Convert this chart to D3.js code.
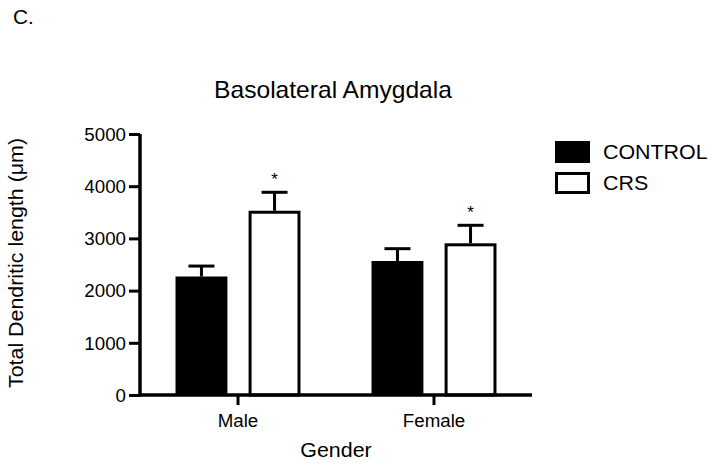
<!DOCTYPE html>
<html><head><meta charset="utf-8">
<script src="https://cdn.jsdelivr.net/npm/d3@7"></script>
<style>body{margin:0;background:#fff}svg{display:block}text{font-family:"Liberation Sans",Arial,sans-serif;fill:#000}</style>
</head><body><svg id="c" width="714" height="466"></svg>
<script>
const categories = ["Male", "Female"];
const seriesNames = ["CONTROL", "CRS"];
const controlValues = [2270, 2567];
const controlErrors = [200, 236];
const crsValues = [3530, 2906];
const crsErrors = [353, 345];
const significant = [true, true];
const yTicks = [0, 1000, 2000, 3000, 4000, 5000];

const FONT = '"Liberation Sans",Arial,sans-serif';
const SX = 1.07;
const svg = d3.select("#c");
const m = {left: 140, right: 532, top: 134, bottom: 395};
const x = d3.scaleBand().domain(categories).range([m.left, m.right]).paddingInner(0).paddingOuter(0);
const y = d3.scaleLinear().domain([0, 5000]).range([m.bottom, m.top]);
const sub = d3.scaleBand().domain(seriesNames).range([0, x.bandwidth()]).paddingInner(0.29).paddingOuter(0.486);

function label(px, py, txt, size, anchor, rot) {
  const gg = svg.append("g").attr("transform", `translate(${px},${py})` + (rot ? ` rotate(${rot})` : "") + ` scale(${SX},1)`);
  gg.append("text").attr("text-anchor", anchor || "start").attr("font-size", size).text(txt);
  return gg;
}

const data = [];
categories.forEach((c, i) => {
  data.push({cat: c, s: "CONTROL", v: controlValues[i], e: controlErrors[i], sig: false});
  data.push({cat: c, s: "CRS", v: crsValues[i], e: crsErrors[i], sig: significant[i]});
});

const g = svg.append("g");
data.forEach(d => {
  const cx = x(d.cat) + sub(d.s) + sub.bandwidth() / 2;
  g.append("line").attr("x1", cx).attr("x2", cx).attr("y1", y(d.v)).attr("y2", y(d.v + d.e)).attr("stroke", "#000").attr("stroke-width", 3);
  g.append("line").attr("x1", cx - 13).attr("x2", cx + 13).attr("y1", y(d.v + d.e)).attr("y2", y(d.v + d.e)).attr("stroke", "#000").attr("stroke-width", 3);
  if (d.sig) g.append("text").attr("x", cx).attr("y", y(d.v + d.e) - 7).attr("text-anchor", "middle").attr("font-size", 17).text("*");
});

data.forEach(d => {
  const bx = x(d.cat) + sub(d.s);
  if (d.s === "CONTROL") {
    g.append("rect").attr("x", bx).attr("y", y(d.v)).attr("width", sub.bandwidth()).attr("height", y(0) - y(d.v)).attr("fill", "#000");
  } else {
    g.append("rect").attr("x", bx + 1.5).attr("y", y(d.v) + 1.5).attr("width", sub.bandwidth() - 3).attr("height", y(0) - y(d.v) - 1.5).attr("fill", "#fff").attr("stroke", "#000").attr("stroke-width", 3);
  }
});

const yAxis = svg.append("g").attr("transform", `translate(${m.left},0)`)
  .call(d3.axisLeft(y).tickValues(yTicks).tickSize(11).tickPadding(3).tickFormat(d3.format("d")));
yAxis.select(".domain").attr("stroke-width", 3.5).attr("d", `M0,${m.top}V${m.bottom + 1.5}`);
yAxis.selectAll(".tick line").attr("stroke-width", 3);
yAxis.selectAll(".tick text").attr("font-size", 17.5).attr("dy", "0.36em").attr("transform", `scale(${SX},1)`).attr("x", -14 / SX).style("font-family", FONT);

const xAxis = svg.append("g").attr("transform", `translate(0,${m.bottom})`)
  .call(d3.axisBottom(x).tickSize(10).tickPadding(6));
xAxis.select(".domain").attr("stroke-width", 3.5).attr("d", `M${m.left},0H${m.right}`);
xAxis.selectAll(".tick line").attr("stroke-width", 3);
xAxis.selectAll(".tick text").attr("font-size", 17.5).attr("dy", null).attr("y", 32).attr("transform", `scale(${SX},1)`).style("font-family", FONT);
svg.selectAll(".domain, .tick line").attr("stroke", "#000");

label(333, 98, "Basolateral Amygdala", 23, "middle");
label(336, 457, "Gender", 20, "middle");
label(23, 263, "Total Dendritic length (μm)", 20, "middle", -90);
label(13, 24, "C.", 19.5, "start");

const leg = svg.append("g");
seriesNames.forEach((s, i) => {
  const ly = 141 + i * 31;
  if (i === 0) leg.append("rect").attr("x", 555).attr("y", ly).attr("width", 35).attr("height", 22).attr("fill", "#000");
  else leg.append("rect").attr("x", 556.5).attr("y", ly + 1.5).attr("width", 32).attr("height", 19).attr("fill", "#fff").attr("stroke", "#000").attr("stroke-width", 3);
  label(603, ly + 17.5, s, 20, "start");
});
</script></body></html>
